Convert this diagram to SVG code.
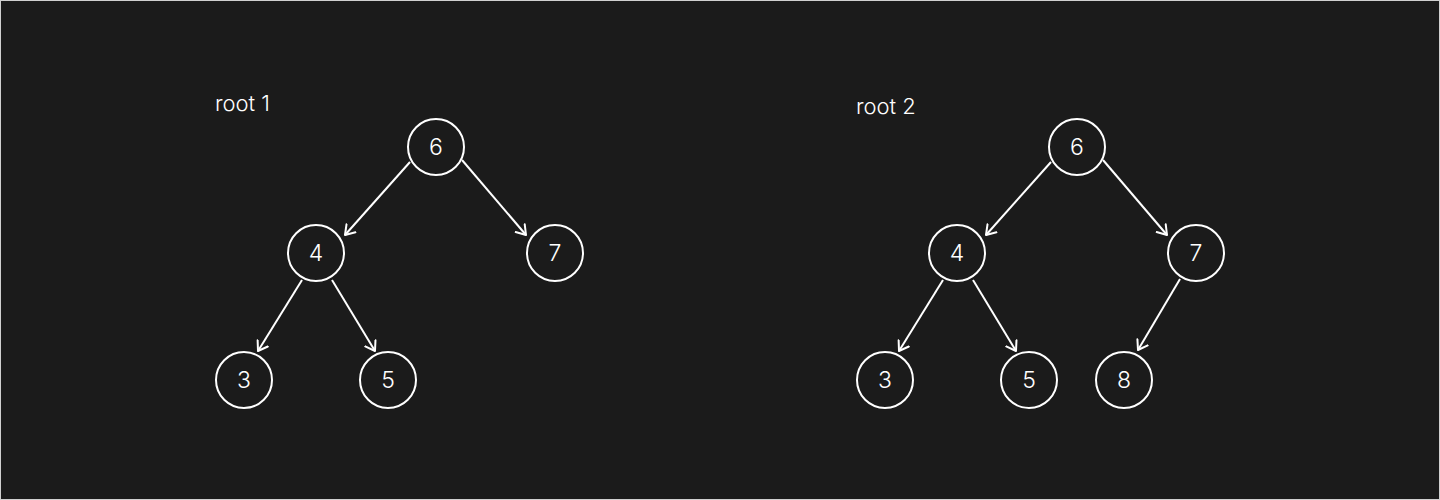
<svg xmlns="http://www.w3.org/2000/svg" width="1440" height="500" viewBox="0 0 1440 500">
<style>
.n circle{fill:none;stroke:#ffffff;stroke-width:2}
.n text{fill:#ffffff;font-family:Inter,"Liberation Sans",sans-serif;font-size:23px;font-weight:300;text-anchor:middle;dominant-baseline:central}
.lbl{fill:#ffffff;font-family:Inter,"Liberation Sans",sans-serif;font-size:22px;font-weight:300}
.e line{stroke:#ffffff;stroke-width:2;marker-end:url(#arr)}
</style>
<defs>
<marker id="arr" viewBox="0 0 20 20" refX="10" refY="10" markerWidth="20" markerHeight="20" markerUnits="userSpaceOnUse" orient="auto">
<path d="M1,4 L10,10 L1,16" fill="none" stroke="#ffffff" stroke-width="2" stroke-linecap="round" stroke-linejoin="round"/>
</marker>
</defs>
<rect x="0.5" y="0.5" width="1439" height="499" fill="#1b1b1b" stroke="#d0d0d0" stroke-width="1"/>
<text class="lbl" x="215" y="111">root 1</text>
<text class="lbl" x="856" y="114">root 2</text>
<g class="e" id="edges">
<line x1="410" y1="162" x2="345" y2="235"/>
<line x1="462" y1="160" x2="526" y2="235"/>
<line x1="302" y1="280" x2="258" y2="351"/>
<line x1="332" y1="280" x2="375" y2="351"/>
<line x1="1051" y1="162" x2="986" y2="235"/>
<line x1="1103" y1="160" x2="1167" y2="235"/>
<line x1="943" y1="280" x2="899" y2="351"/>
<line x1="973" y1="280" x2="1016" y2="351"/>
<line x1="1180" y1="279" x2="1138" y2="350"/>
</g>
<g class="n" id="t1-6"><circle cx="436" cy="147" r="28"/><text x="436" y="147">6</text></g>
<g class="n" id="t1-4"><circle cx="316" cy="253" r="28"/><text x="316" y="253">4</text></g>
<g class="n" id="t1-7"><circle cx="555" cy="253" r="28"/><text x="555" y="253">7</text></g>
<g class="n" id="t1-3"><circle cx="244" cy="380" r="28"/><text x="244" y="380">3</text></g>
<g class="n" id="t1-5"><circle cx="388" cy="380" r="28"/><text x="388" y="380">5</text></g>
<g class="n" id="t2-6"><circle cx="1077" cy="147" r="28"/><text x="1077" y="147">6</text></g>
<g class="n" id="t2-4"><circle cx="957" cy="253" r="28"/><text x="957" y="253">4</text></g>
<g class="n" id="t2-7"><circle cx="1196" cy="253" r="28"/><text x="1196" y="253">7</text></g>
<g class="n" id="t2-3"><circle cx="885" cy="380" r="28"/><text x="885" y="380">3</text></g>
<g class="n" id="t2-5"><circle cx="1029" cy="380" r="28"/><text x="1029" y="380">5</text></g>
<g class="n" id="t2-8"><circle cx="1124" cy="380" r="28"/><text x="1124" y="380">8</text></g>
</svg>
